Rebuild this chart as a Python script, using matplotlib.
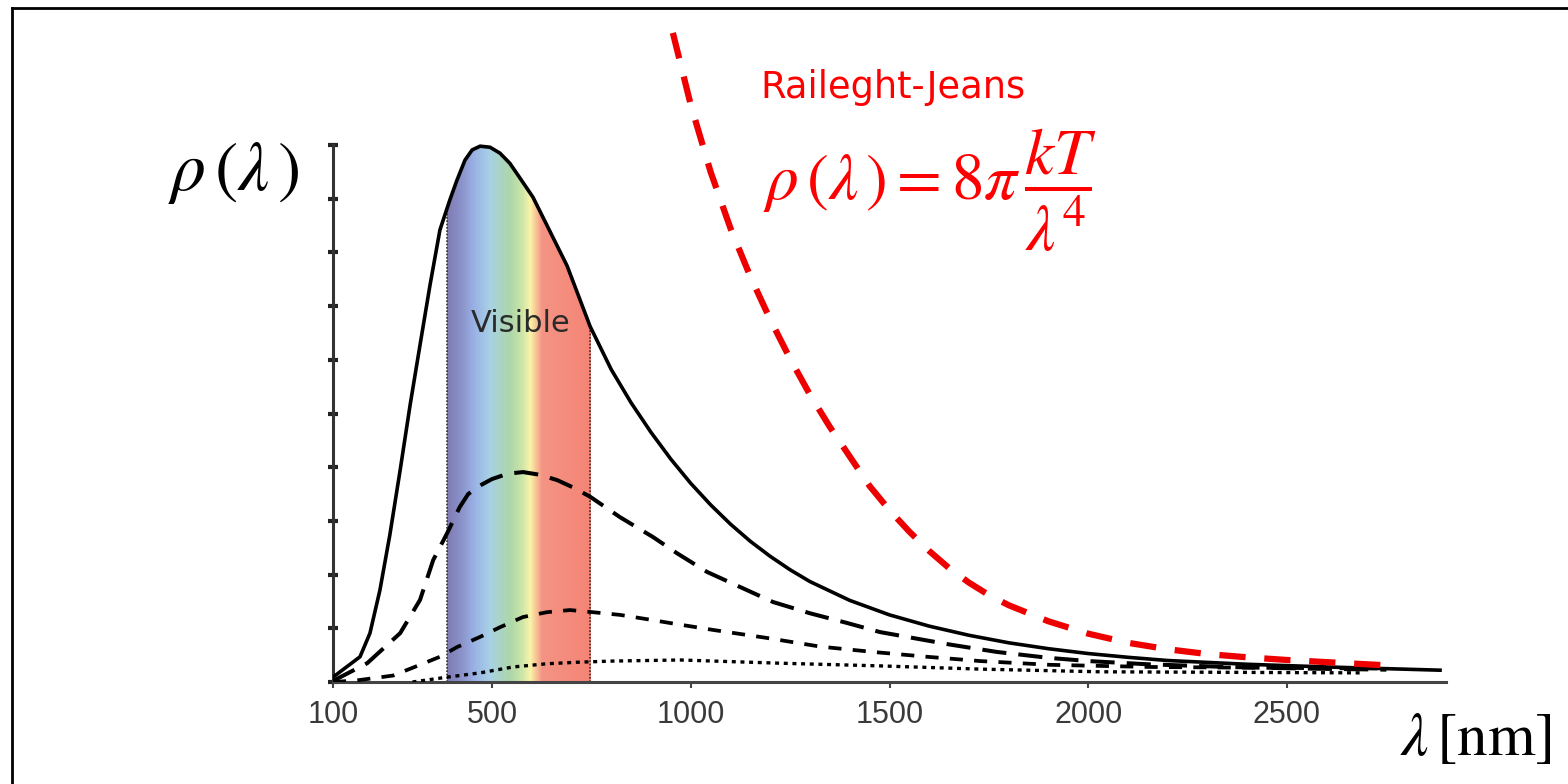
#Blackbody spectra with the Rayleigh-Jeans curve on top
import numpy as np
import matplotlib.pyplot as plt
from matplotlib.lines import Line2D

plt.rcParams["mathtext.fontset"] = "stix"

#wavelength in nm, spectral density
hot_x = [100, 168, 193, 218, 243, 269, 294, 319, 344, 369, 394, 412, 432, 450, 470, 495, 520, 545,
         570, 603, 638, 689, 747, 800, 850, 900, 950, 1000, 1050, 1100, 1150, 1200, 1250, 1300,
         1400, 1500, 1600, 1700, 1800, 1900, 2000, 2100, 2200, 2400, 2600, 2885]
hot_y = [0.09, 0.47, 0.91, 1.71, 2.74, 3.95, 5.16, 6.28, 7.39, 8.42, 8.98, 9.35, 9.72, 9.91, 9.98,
         9.96, 9.85, 9.66, 9.39, 9.03, 8.51, 7.75, 6.62, 5.82, 5.20, 4.65, 4.15, 3.70, 3.30, 2.94,
         2.62, 2.34, 2.09, 1.87, 1.52, 1.25, 1.04, 0.87, 0.73, 0.62, 0.53, 0.46, 0.40, 0.33, 0.28,
         0.22]

mid_x = [100, 186, 269, 319, 352, 387, 419, 440, 470, 500, 540, 578, 620, 664, 705, 747, 822, 905,
         965, 1041, 1124, 1207, 1300, 1393, 1476, 1559, 1650, 1770, 1900, 2000, 2150, 2350, 2550, 2750]
mid_y = [0.02, 0.35, 0.91, 1.53, 2.27, 2.77, 3.26, 3.50, 3.66, 3.78, 3.88, 3.91, 3.86, 3.76, 3.62,
         3.45, 3.07, 2.70, 2.40, 2.05, 1.77, 1.49, 1.28, 1.10, 0.93, 0.82, 0.70, 0.56, 0.45, 0.39,
         0.33, 0.28, 0.25, 0.23]

low_x = [100, 160, 251, 319, 369, 412, 470, 520, 578, 638, 696, 754, 822, 890, 955, 1056, 1192,
         1325, 1458, 1594, 1728, 1904, 2155, 2533, 2750]
low_y = [0.0, 0.03, 0.12, 0.32, 0.47, 0.65, 0.84, 1.02, 1.21, 1.30, 1.34, 1.30, 1.25, 1.17, 1.09,
         0.97, 0.82, 0.66, 0.56, 0.47, 0.39, 0.32, 0.28, 0.26, 0.25]

cold_x = [300, 387, 470, 553, 638, 721, 804, 973, 1225, 1476, 1728, 2030, 2684]
cold_y = [0.0, 0.09, 0.17, 0.28, 0.34, 0.37, 0.39, 0.41, 0.35, 0.30, 0.24, 0.19, 0.17]

rj_x = [955, 1000, 1050, 1100, 1150, 1200, 1250, 1300, 1350, 1400, 1450, 1500, 1550, 1600, 1650,
        1700, 1750, 1800, 1900, 2000, 2100, 2200, 2300, 2400, 2500, 2600, 2700, 2780]
rj_y = [12.09, 10.75, 9.50, 8.45, 7.55, 6.75, 6.02, 5.35, 4.75, 4.20, 3.65, 3.20, 2.80, 2.44, 2.12,
        1.85, 1.62, 1.43, 1.13, 0.90, 0.73, 0.61, 0.52, 0.46, 0.41, 0.37, 0.33, 0.30]

visible = (387, 747)
x_ticks = [100, 500, 1000, 1500, 2000, 2500]

#rainbow colours across the visible band
band_nm = [387, 425, 455, 495, 545, 575, 595, 625, 747]
band_rgb = [(0.50, 0.48, 0.70), (0.55, 0.58, 0.80), (0.60, 0.70, 0.90), (0.66, 0.82, 0.90),
            (0.68, 0.84, 0.66), (0.80, 0.90, 0.66), (0.98, 0.96, 0.66), (0.96, 0.58, 0.52),
            (0.96, 0.52, 0.46)]

fig = plt.figure(figsize=(15.68, 7.84), dpi=100)
ax = fig.add_axes([333 / 1568, 102 / 784, 1113 / 1568, 662 / 784])

#spectrum under the hottest curve
xs = np.linspace(visible[0], visible[1], 400)
img = np.stack([np.interp(xs, band_nm, [c[i] for c in band_rgb]) for i in range(3)], axis=-1)[None, :, :]
im = ax.imshow(img, extent=[visible[0], visible[1], 0, 11], aspect="auto", zorder=1)
poly = ax.fill_between(hot_x, hot_y, 0, color="none")
im.set_clip_path(poly.get_paths()[0], transform=ax.transData)
for v in visible:
    top = np.interp(v, hot_x, hot_y)
    ax.plot([v, v], [0, top], color="#333333", lw=1.2, ls=(0, (1, 1)), zorder=2)

ax.text(573, 6.67, "Visible", ha="center", va="center", fontsize=22, color="#2a2a2a", zorder=3)

ax.plot(hot_x, hot_y, color="black", lw=2.6, zorder=4)
ax.plot(mid_x, mid_y, color="black", lw=2.9, dashes=(6, 3), zorder=4)
ax.plot(low_x, low_y, color="black", lw=2.7, dashes=(3.5, 3), zorder=4)
ax.plot(cold_x, cold_y, color="black", lw=2.4, dashes=(1.2, 1.4), zorder=4)
ax.plot(rj_x, rj_y, color="#ee0000", lw=4.5, dashes=(4.2, 3), zorder=5)

ax.set_xlim(100, 2900)
ax.set_ylim(0, 12.33)
ax.set_xticks(x_ticks)
ax.set_yticks(range(0, 11))
ax.set_yticklabels([])
ax.set_xticklabels([str(t) for t in x_ticks], fontsize=22, color="#3a3a3a", family="Liberation Sans")
ax.tick_params(axis="x", direction="out", length=4, width=1.5, color="#444444", pad=9)
ax.tick_params(axis="y", direction="inout", length=7, width=3, color="#222222")
for side in ["top", "right"]:
    ax.spines[side].set_visible(False)
ax.spines["left"].set_bounds(0, 10)
ax.spines["left"].set_linewidth(2.2)
ax.spines["left"].set_color("#333333")
ax.spines["bottom"].set_linewidth(2.2)
ax.spines["bottom"].set_color("#444444")
ax.set_facecolor("none")

#labels and Rayleigh-Jeans formula
fig.text(168 / 1568, 1 - 172 / 784, r"$\rho\,(\lambda\,)$", fontsize=50, va="center", ha="left")
fig.text(1552 / 1568, 1 - 738 / 784, r"$\lambda\,[\mathrm{nm}]$", fontsize=44, va="center", ha="right")
fig.text(760 / 1568, 1 - 98 / 784, "Raileght-Jeans", fontsize=26.5, color="#ff0000", va="baseline", ha="left")
fig.text(763 / 1568, 1 - 190 / 784, r"$\rho\,(\lambda\,) = 8\pi\,\dfrac{kT}{\lambda^4}$", fontsize=47,
         color="#ff0000", va="center", ha="left")

#slide frame
fig.add_artist(Line2D([12 / 1568, 1], [1 - 8 / 784, 1 - 8 / 784], color="black", lw=2))
fig.add_artist(Line2D([12 / 1568, 12 / 1568], [0, 1 - 8 / 784], color="black", lw=2))

fig.savefig("out.png", dpi=100)
